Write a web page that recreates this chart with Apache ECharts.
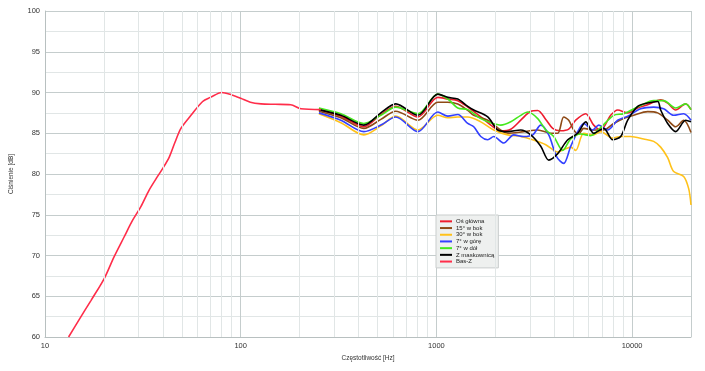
<!DOCTYPE html>
<html><head><meta charset="utf-8">
<script src="https://cdn.jsdelivr.net/npm/echarts@6/dist/echarts.min.js"></script>
<style>html,body{margin:0;padding:0;background:#fff}#c{width:705px;height:371px}</style>
</head><body><div id="c"></div>
<script>
// ---- data ----
const yTicks = [60, 65, 70, 75, 80, 85, 90, 95, 100];
const xMajorTicks = [10, 100, 1000, 10000];
const xMinorGrid = [20,30,40,50,60,70,80,90,200,300,400,500,600,700,800,900,2000,3000,4000,5000,6000,7000,8000,9000];

const osGlowna = [[251,87.9],[325,87.1],[426,85.8],[520,87.3],[620,88.3],[804,87.0],[1017,89.4],[1144,89.2],[1286,89.0],[1447,88.2],[1686,87.0],[1896,86.0],[2133,85.3],[2399,85.5],[2698,86.6],[3035,87.7],[3295,87.8],[3621,86.7],[3930,85.6],[4318,85.3],[4745,85.5],[5152,86.6],[5794,87.4],[6366,86.0],[6914,85.4],[7776,87.2],[8443,87.85],[9496,87.5],[10681,88.1],[12013,88.5],[13996,89.1],[15199,88.7],[16700,87.85],[18780,88.6],[20000,87.9]];
const bok15 = [[251,87.7],[325,86.9],[426,85.6],[520,86.7],[620,87.7],[804,86.6],[1017,88.8],[1144,88.8],[1286,88.6],[1447,87.8],[1552,87.2],[1830,86.6],[2315,85.0],[2795,85.2],[3295,85.4],[3840,85.0],[4169,85.0],[4473,87.0],[4745,86.6],[5032,85.4],[5337,84.9],[5659,85.6],[6366,85.4],[7161,85.4],[8054,86.2],[9060,86.8],[10188,87.2],[12013,87.65],[13509,87.5],[15199,86.6],[16700,85.8],[18350,86.6],[20000,85.1]];
const bok30 = [[251,87.4],[325,86.3],[426,84.8],[520,85.9],[620,87.1],[804,85.4],[1017,87.2],[1144,86.9],[1286,87.0],[1447,87.0],[1686,86.4],[1964,85.4],[2315,84.8],[2698,84.6],[3107,84.2],[3621,83.6],[4169,82.7],[4473,83.0],[4858,83.3],[5152,82.9],[5659,85.0],[6366,84.8],[6914,85.2],[7961,84.4],[8746,84.6],[9836,84.6],[11463,84.3],[12890,84.0],[13996,83.3],[15199,82.0],[16310,80.3],[18350,79.7],[19460,78.2],[20000,76.2]];
const gora7 = [[251,87.5],[325,86.6],[426,85.2],[520,86.0],[620,87.0],[804,85.2],[1017,87.6],[1144,87.1],[1286,87.3],[1447,86.2],[1552,85.8],[1686,84.6],[1830,84.2],[1964,84.6],[2209,83.8],[2485,84.8],[2795,84.6],[3107,84.8],[3414,86.0],[3751,84.8],[4120,82.1],[4473,81.3],[4858,83.4],[5275,85.2],[5659,86.2],[6292,85.4],[6752,86.0],[7506,85.4],[8443,86.6],[9496,87.1],[11064,88.0],[12890,88.2],[14500,88.0],[16310,87.2],[18350,87.4],[20000,86.6]];
const dol7 = [[251,88.1],[325,87.4],[426,86.2],[520,87.2],[620,88.2],[804,87.4],[1017,89.8],[1144,89.2],[1286,88.1],[1447,87.9],[1686,86.8],[1896,86.3],[2133,86.0],[2399,86.4],[2698,87.2],[2930,87.6],[3295,86.8],[3621,85.4],[3976,84.6],[4421,82.9],[4858,84.3],[5463,84.9],[6145,84.7],[6914,85.7],[8054,87.2],[9060,87.4],[11064,88.4],[12890,89.0],[14500,89.0],[16700,88.1],[18780,88.6],[20000,87.9]];
const maskownica = [[251,87.9],[325,87.2],[426,86.0],[520,87.5],[620,88.6],[804,87.2],[1017,89.8],[1144,89.4],[1286,89.2],[1447,88.3],[1552,87.85],[1830,87.0],[2059,85.4],[2315,85.2],[2698,85.4],[3035,84.8],[3414,83.4],[3751,81.7],[4169,82.5],[4690,84.2],[5275,85.0],[5794,86.4],[6366,85.0],[7161,85.6],[7961,84.2],[8746,84.6],[9496,86.6],[10681,88.3],[12013,88.7],[13509,88.9],[13996,87.85],[15199,86.2],[16700,85.2],[18780,86.6],[20000,86.4]];
const basZ = [[13.2,60.0],[15,62.2],[17.2,64.5],[20.1,67.2],[22.5,69.8],[25.4,72.3],[28,74.3],[30.9,76.0],[34,78.0],[37.6,79.7],[40.5,80.9],[43.2,82.1],[46,83.8],[49.5,85.6],[55.7,87.2],[63.9,88.9],[70,89.4],[80,90.0],[90,89.7],[100,89.3],[112,88.8],[127,88.6],[150,88.55],[180,88.5],[203,88.0],[257,87.9]];

const names = ['Oś główna','15° w bok','30° w bok','7° w górę','7° w dół','Z maskownicą','Bas-Z'];
const colors = ['#ee1c2e','#8e4a16','#ffc21a','#3340ff','#44e81c','#000000','#ff2d4a'];
const datasets = [osGlowna, bok15, bok30, gora7, dol7, maskownica, basZ];

const chart = echarts.init(document.getElementById('c'));
const series = names.map((n,i)=>({
  name:n, type:'line', data:datasets[i], smooth:0.3, showSymbol:false, symbol:'none',
  lineStyle:{color:colors[i], width:1.6}, itemStyle:{color:colors[i]}, z:3
}));
series.push({
  name:'grid', type:'line', data:[], z:1, silent:true,
  markLine:{silent:true, symbol:'none', label:{show:false}, animation:false,
    lineStyle:{color:'#e1e6e6', width:1, type:'solid'},
    data:xMinorGrid.map(v=>({xAxis:v}))}
});
chart.setOption({
  animation:false,
  grid:{left:44, right:14, top:11, bottom:34},
  legend:{
    data:names.map((n,i)=>({name:n, icon:'rect'})),
    orient:'vertical', left:436, top:215, itemWidth:12, itemHeight:2, itemGap:0,
    padding:[3,4,3,4], backgroundColor:'#eef0ef', borderColor:'#c9cdcd', borderWidth:1,
    textStyle:{fontSize:6, lineHeight:6.7, color:'#222', fontFamily:'Liberation Sans', padding:[0,0,0,-1]}
  },
  xAxis:{
    type:'log', logBase:10, min:10, max:20000,
    name:'Częstotliwość [Hz]', nameLocation:'middle', nameGap:17,
    nameTextStyle:{fontSize:6.5, color:'#333', fontFamily:'Liberation Sans'},
    axisLine:{lineStyle:{color:'#b8c0c0'}}, axisTick:{show:false},
    axisLabel:{fontSize:7.5, color:'#333', fontFamily:'Liberation Sans', margin:5, showMaxLabel:false,
      formatter:v=> xMajorTicks.includes(Math.round(v)) ? String(Math.round(v)) : ''},
    splitLine:{show:true, lineStyle:{color:'#c5cdcd', width:1}}
  },
  yAxis:{
    type:'value', min:yTicks[0], max:yTicks[yTicks.length-1], interval:5,
    name:'Ciśnienie [dB]', nameLocation:'middle', nameGap:30,
    nameTextStyle:{fontSize:6.5, color:'#333', fontFamily:'Liberation Sans'},
    axisLine:{show:true, lineStyle:{color:'#b8c0c0'}}, axisTick:{show:false},
    axisLabel:{fontSize:7.5, color:'#333', fontFamily:'Liberation Sans', margin:5},
    splitLine:{show:true, lineStyle:{color:'#c5cdcd', width:1}},
    minorTick:{show:false, splitNumber:2},
    minorSplitLine:{show:true, lineStyle:{color:'#e1e6e6', width:1}}
  },
  series:series
});
</script></body></html>
